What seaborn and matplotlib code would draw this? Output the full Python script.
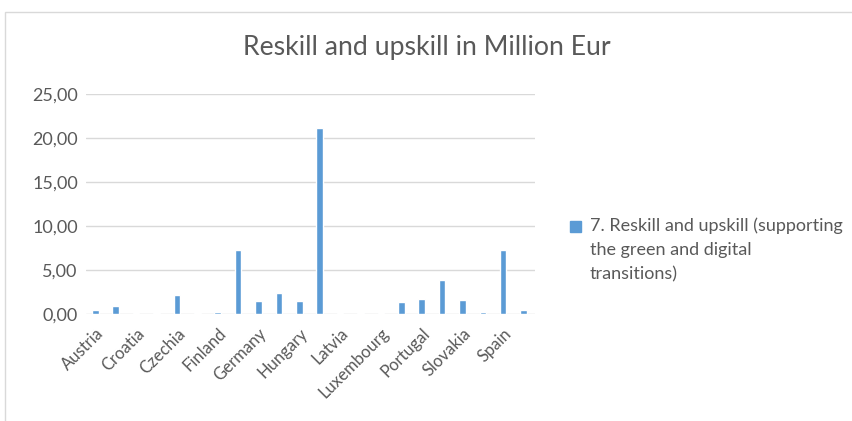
import numpy as np
import pandas as pd
import matplotlib
matplotlib.use("Agg")
import matplotlib.pyplot as plt
import matplotlib.patches as mpatches
from matplotlib.legend_handler import HandlerPatch
import seaborn as sns

# data (million EUR)
countries = [
    "Austria", "Belgium", "Croatia", "Cyprus", "Czechia", "Estonia",
    "Finland", "France", "Germany", "Greece", "Hungary", "Italy",
    "Latvia", "Lithuania", "Luxembourg", "Malta", "Portugal", "Romania",
    "Slovakia", "Slovenia", "Spain", "Sweden",
]
values = [
    0.49, 0.87, 0.10, 0.08, 2.12, 0.08,
    0.27, 7.30, 1.45, 2.35, 1.45, 21.10,
    0.08, 0.08, 0.10, 1.36, 1.73, 3.85,
    1.62, 0.26, 7.30, 0.49,
]
series_name = "7. Reskill and upskill (supporting\nthe green and digital\ntransitions)"
title = "Reskill and upskill in Million Eur"
yticks = [0, 5, 10, 15, 20, 25]

df = pd.DataFrame({"country": countries, "value": values})

sns.set_style("white")
plt.rcParams["font.family"] = ["Lato", "DejaVu Sans"]

text_col = "#595959"
bar_col = "#5B9BD5"

fig = plt.figure(figsize=(8.53, 4.21), dpi=100)
ax = fig.add_axes([0.101, 0.254, 0.526, 0.523])

sns.barplot(data=df, x="country", y="value", color=bar_col, width=0.32,
            saturation=1, ax=ax)

ax.set_ylim(0, 25)
ax.set_xlim(-0.45, len(countries) - 0.45)
ax.set_yticks(yticks)
ax.set_yticklabels([f"{v:.2f}".replace(".", ",") for v in yticks],
                   fontsize=13, color=text_col)
ax.yaxis.grid(True, color="#d9d9d9", linewidth=1)
ax.set_axisbelow(True)

ax.set_xticks(range(len(countries)))
ax.set_xticklabels([c if i % 2 == 0 else "" for i, c in enumerate(countries)],
                   rotation=45, ha="right", rotation_mode="anchor",
                   fontsize=12, color=text_col)
ax.tick_params(axis="y", length=0, pad=6)
ax.tick_params(axis="x", length=0, pad=8)
ax.set_xlabel("")
ax.set_ylabel("")
for s in ax.spines.values():
    s.set_visible(False)

fig.text(0.5, 0.888, title, ha="center", va="center", fontsize=19.2,
         color=text_col)


# small square marker sitting next to the first line of the label
def top_square(legend, orig_handle, xdescent, ydescent, width, height, fontsize):
    side = 0.62 * fontsize
    return mpatches.Rectangle((-xdescent, -ydescent + height - side + 0.25 * fontsize),
                              side, side)


handle = mpatches.Patch(color=bar_col, label=series_name)
leg = fig.legend(handles=[handle], loc="center left", bbox_to_anchor=(0.660, 0.406),
                 frameon=False, fontsize=13, labelcolor=text_col,
                 handlelength=0.62, handleheight=4.1, handletextpad=0.45,
                 borderaxespad=0, labelspacing=0,
                 handler_map={mpatches.Patch: HandlerPatch(patch_func=top_square)})
for t in leg.get_texts():
    t.set_linespacing(1.6)

# outer chart border
fig.add_artist(mpatches.Rectangle((0.006, -0.02), 1.1, 0.992,
                                  transform=fig.transFigure, fill=False,
                                  edgecolor="#d9d9d9", linewidth=1))

fig.savefig("out.png", dpi=100)
